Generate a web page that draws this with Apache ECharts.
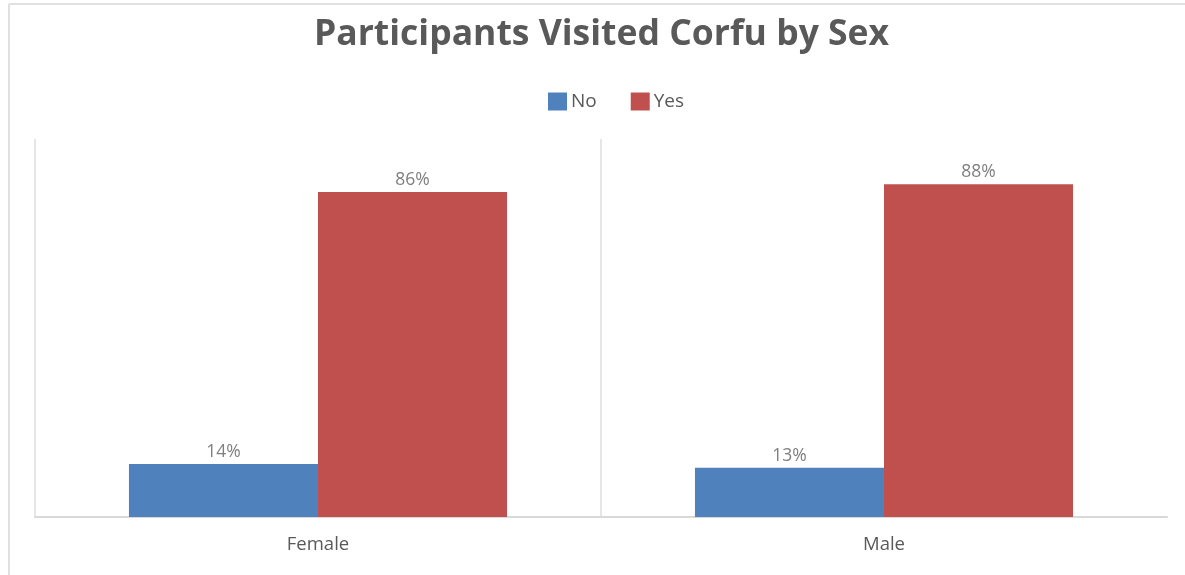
<!DOCTYPE html>
<html>
<head>
<meta charset="utf-8">
<script src="https://cdn.jsdelivr.net/npm/echarts@6/dist/echarts.min.js"></script>
<style>
  html, body { margin: 0; padding: 0; background: #fff; }
  #chart { width: 1185px; height: 575px; }
</style>
</head>
<body>
<div id="chart"></div>
<script>
// Share of participants who have visited Corfu, split by sex
const categories = ['Female', 'Male'];
const seriesNames = ['No', 'Yes'];
const noValues = [14, 13];
const yesValues = [86, 88];

const FONT = '"Open Sans", "Noto Sans", sans-serif';
const TEXT = '#595959';

const chart = echarts.init(document.getElementById('chart'), null, { renderer: 'canvas' });

const barLabel = {
  show: true,
  position: 'top',
  distance: 3,
  color: '#7f7f7f',
  fontFamily: FONT,
  fontSize: 17.5,
  formatter: p => p.value + '%'
};

chart.setOption({
  animation: false,
  backgroundColor: '#ffffff',
  title: {
    text: 'Participants Visited Corfu by Sex',
    left: 309,
    top: 12,
    textStyle: { color: TEXT, fontFamily: FONT, fontWeight: 'bold', fontSize: 35.5 }
  },
  legend: {
    data: seriesNames,
    top: 87,
    left: 543,
    itemWidth: 19,
    itemHeight: 18,
    itemGap: 34,
    icon: 'rect',
    textStyle: { color: TEXT, fontFamily: FONT, fontSize: 19, padding: [0, 0, 0, -1] }
  },
  grid: { left: 35, right: 18, top: 139, bottom: 58, containLabel: false },
  xAxis: {
    type: 'category',
    data: categories,
    axisLine: { show: true, lineStyle: { color: '#d9d9d9', width: 2 } },
    axisTick: { show: false },
    axisLabel: { color: TEXT, fontFamily: FONT, fontSize: 18.5, margin: 18 },
    splitLine: { show: true, showMaxLine: false, lineStyle: { color: '#e6e6e6', width: 2 } }
  },
  yAxis: {
    type: 'value',
    min: 0,
    max: 100,
    interval: 20,
    show: false,
    splitLine: { show: false }
  },
  series: [
    {
      name: seriesNames[0],
      type: 'bar',
      data: noValues,
      barGap: '0%',
      barCategoryGap: '33.2%',
      itemStyle: { color: '#4f81bd' },
      label: barLabel
    },
    {
      name: seriesNames[1],
      type: 'bar',
      data: yesValues,
      itemStyle: { color: '#c0504d' },
      label: barLabel
    }
  ],
  graphic: [
    { type: 'line', shape: { x1: 9, y1: 4, x2: 9, y2: 575 }, style: { stroke: '#e0e0e0', lineWidth: 2 }, silent: true },
    { type: 'line', shape: { x1: 9, y1: 4, x2: 1185, y2: 4 }, style: { stroke: '#e0e0e0', lineWidth: 2 }, silent: true }
  ]
});
</script>
</body>
</html>
